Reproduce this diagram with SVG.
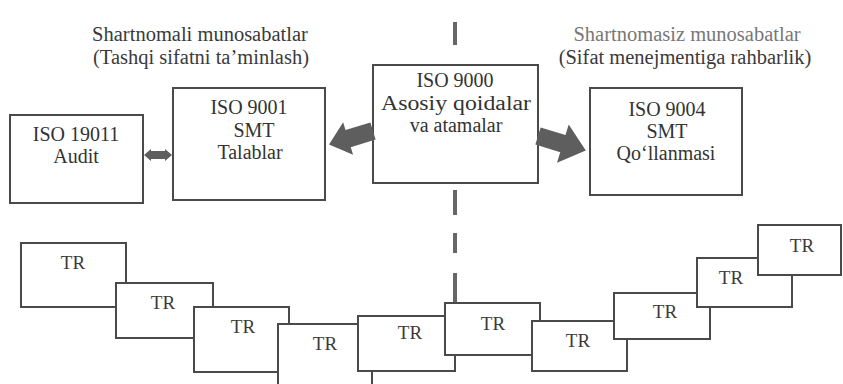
<svg xmlns="http://www.w3.org/2000/svg" width="843" height="384" viewBox="0 0 843 384">
<style>
.bg{fill:#ffffff}
.box{fill:#ffffff;stroke:#4a4a4a;stroke-width:2}
.t{font-family:"Liberation Serif","Times New Roman",serif;font-size:20px;fill:#333333;text-anchor:middle}
.tr{font-family:"Liberation Serif","Times New Roman",serif;font-size:19px;fill:#3a3a3a;text-anchor:middle}
.title{font-family:"Liberation Serif","Times New Roman",serif;font-size:20.5px;fill:#3a3a3a;text-anchor:middle}
.title2{font-family:"Liberation Serif","Times New Roman",serif;font-size:20.5px;fill:#777777;text-anchor:middle}
.arrow{fill:#5e5e5e}
.div{stroke:#666666;stroke-width:4;fill:none}
</style>
<rect class="bg" x="0" y="0" width="843" height="384"/>

<g id="titles">
<text class="title" x="200" y="41">Shartnomali munosabatlar</text>
<text class="title" x="201" y="64">(Tashqi sifatni ta’minlash)</text>
<text class="title2" x="687" y="41">Shartnomasiz munosabatlar</text>
<text class="title" x="685" y="64">(Sifat menejmentiga rahbarlik)</text>
</g>

<g id="divider">
<path class="div" d="M455 22V45M455 190V215M455 233V253M455 273V302"/>
</g>

<g id="tr-boxes">
<g id="tr1"><rect class="box" x="21" y="243" width="105" height="64"/><text class="tr" x="73" y="269">TR</text></g>
<g id="tr2"><rect class="box" x="116" y="283" width="97" height="55"/><text class="tr" x="163" y="309">TR</text></g>
<g id="tr3"><rect class="box" x="194" y="307" width="95" height="65"/><text class="tr" x="243" y="333">TR</text></g>
<g id="tr4"><rect class="box" x="278" y="324" width="94" height="80"/><text class="tr" x="325" y="350">TR</text></g>
<g id="tr5"><rect class="box" x="358" y="316" width="97" height="55"/><text class="tr" x="410" y="339">TR</text></g>
<g id="tr6"><rect class="box" x="445" y="303" width="95" height="52"/><text class="tr" x="493" y="330">TR</text></g>
<g id="tr7"><rect class="box" x="532" y="321" width="95" height="50"/><text class="tr" x="578" y="347">TR</text></g>
<g id="tr8"><rect class="box" x="614" y="293" width="96" height="46"/><text class="tr" x="665" y="318">TR</text></g>
<g id="tr9"><rect class="box" x="697" y="258" width="95" height="49"/><text class="tr" x="731" y="284">TR</text></g>
<g id="tr10"><rect class="box" x="758" y="225" width="83" height="50"/><text class="tr" x="802" y="252">TR</text></g>
</g>

<g id="iso19011"><rect class="box" x="10" y="115" width="133" height="88"/>
<text class="t" x="76" y="141">ISO 19011</text>
<text class="t" x="76" y="163">Audit</text></g>

<g id="iso9001"><rect class="box" x="173" y="88" width="152" height="112"/>
<text class="t" x="249" y="114">ISO 9001</text>
<text class="t" x="254" y="137">SMT</text>
<text class="t" x="250" y="159">Talablar</text></g>

<g id="iso9000"><rect class="box" x="373" y="65" width="165" height="118"/>
<text class="t" x="455" y="87">ISO 9000</text>
<text class="t" x="456" y="110" textLength="150" lengthAdjust="spacingAndGlyphs">Asosiy qoidalar</text>
<text class="t" x="456" y="132">va atamalar</text></g>

<g id="iso9004"><rect class="box" x="590" y="88" width="152" height="107"/>
<text class="t" x="667" y="116">ISO 9004</text>
<text class="t" x="667" y="138">SMT</text>
<text class="t" x="666" y="160">Qo‘llanmasi</text></g>

<g id="connectors">
<polygon class="arrow" points="0,-9 26,-9 26,-17 46,0 26,17 26,9 0,9" transform="translate(373,131) rotate(163)"/>
<polygon class="arrow" points="0,-9 26,-9 26,-20 50,0 26,20 26,9 0,9" transform="translate(538,136) rotate(17)"/>
<polygon class="arrow" points="144,155 151,149 151,151 165,151 165,149 172,155 165,161 165,159 151,159 151,161"/>
</g>
</svg>
